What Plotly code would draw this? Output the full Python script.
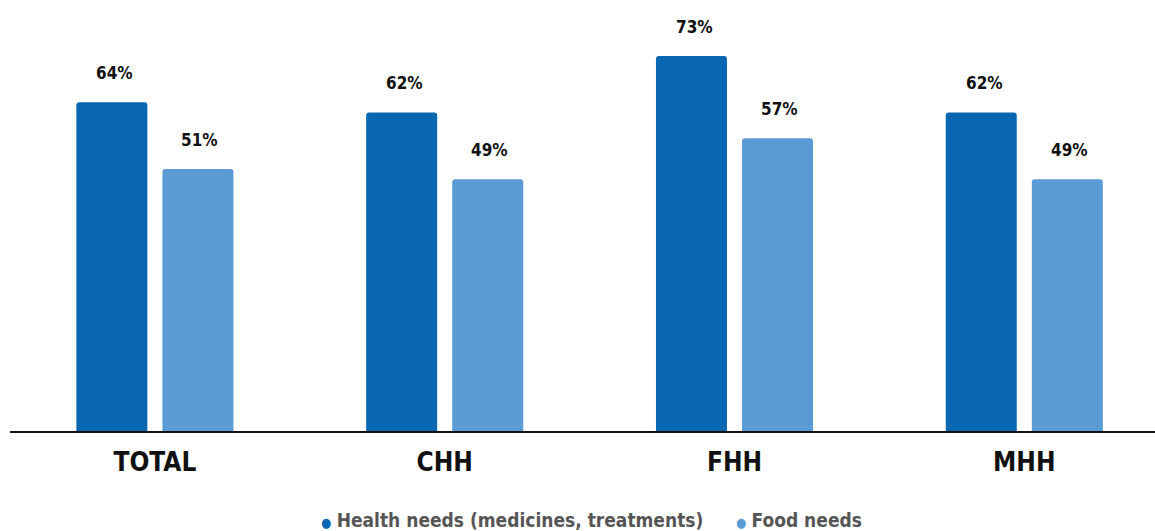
import plotly.graph_objects as go

# Share of households reporting each need, by household type
categories = ["TOTAL", "CHH", "FHH", "MHH"]
health_needs = [64, 62, 73, 62]
food_needs = [51, 49, 57, 49]
series_names = ["Health needs (medicines, treatments)", "Food needs"]

DARK = "#0967b1"
LIGHT = "#5b9bd5"
FONT = "DejaVu Sans Condensed, Liberation Sans Narrow, sans-serif"

bar_w = 0.245
fig = go.Figure()
fig.add_bar(x=categories, y=health_needs, width=bar_w, offset=-0.271,
            name=series_names[0],
            marker=dict(color=DARK, line=dict(width=0), cornerradius=3),
            showlegend=False, hoverinfo="skip")
fig.add_bar(x=categories, y=food_needs, width=bar_w, offset=0.026,
            name=series_names[1],
            marker=dict(color=LIGHT, line=dict(width=0), cornerradius=3),
            showlegend=False, hoverinfo="skip")

# value labels above each bar
annotations = []
for cat, h, f in zip(categories, health_needs, food_needs):
    for val, shift in ((h, -40), (f, 45)):
        annotations.append(dict(
            x=cat, y=val, xref="x", yref="y", text=f"<b>{val}%</b>",
            showarrow=False, xshift=shift, yshift=29,
            font=dict(family=FONT, size=17, color="#111111")))

# legend line with round bullets below the axis
gap = "&nbsp;" * 6
legend_text = gap.join(
    f"<span style='color:{c};font-size:13px'>●</span> <b>{n}</b>"
    for n, c in zip(series_names, [DARK, LIGHT])
)
annotations.append(dict(
    x=0.508, y=-0.2165, xref="paper", yref="paper", xanchor="center",
    yanchor="middle", text=legend_text, showarrow=False,
    font=dict(family=FONT, size=19, color="#555555")))

fig.update_layout(
    width=1155, height=531,
    margin=dict(l=10, r=0, t=20, b=100, autoexpand=False),
    paper_bgcolor="white", plot_bgcolor="white",
    barmode="overlay",
    annotations=annotations,
    xaxis=dict(range=[-0.5, 3.451], showgrid=False, zeroline=False,
               showline=True, linecolor="#111111", linewidth=2,
               automargin=False,
               ticks="", tickfont=dict(family=FONT, size=26, color="#111111"),
               tickprefix="<b>", ticksuffix="</b>", ticklabelstandoff=7),
    yaxis=dict(range=[0, 80], visible=False, automargin=False),
    showlegend=False,
)

fig.write_html("out.html")
